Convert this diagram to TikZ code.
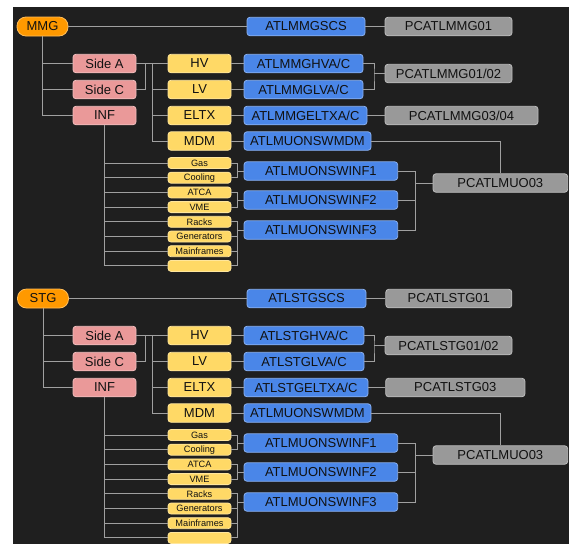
\documentclass[tikz,border=0pt]{standalone}
\usepackage{fontspec}
\setmainfont{Liberation Sans}
\usetikzlibrary{calc}
\definecolor{bgc}{HTML}{1F1F1F}
\definecolor{orng}{HTML}{FF9900}
\definecolor{pnk}{HTML}{EA9999}
\definecolor{yel}{HTML}{FFD966}
\definecolor{blu}{HTML}{4A86E8}
\definecolor{gry}{HTML}{999999}
\definecolor{lnc}{HTML}{A0A0A0}
\definecolor{txt}{HTML}{111111}
\tikzset{
 box/.style={rectangle, rounded corners=3pt, inner sep=0pt, minimum height=18.5pt, text=txt, font=\fontsize{13}{15}\selectfont, line width=0.8pt},
 orangebox/.style={box, fill=orng, draw=orng!65!white, rounded corners=9pt},
 pinkbox/.style={box, fill=pnk, draw=pnk!65!white, minimum width=63pt},
 yelbox/.style={box, fill=yel, draw=yel!65!white, minimum width=63pt},
 smallbox/.style={yelbox, minimum height=11pt, font=\fontsize{9.2}{10}\selectfont},
 bluebox/.style={box, fill=blu, draw=blu!65!white},
 graybox/.style={box, fill=gry, draw=gry!65!white},
 conn/.style={draw=lnc, line width=0.9pt},
}
\begin{document}
\begin{tikzpicture}[x=1pt,y=-1pt]
\useasboundingbox (0,0) rectangle (569,544);
\fill[white] (0,0) rectangle (569,544);
\fill[bgc] (13,7) rectangle (569,544);

% ================= MMG section =================
\node[orangebox, minimum width=51pt, minimum height=19pt] (mtop) at (42.5,26.5) {MMG};
\node[bluebox, minimum width=118pt] (mscs) at (306,26.5) {ATLMMGSCS};
\node[graybox, minimum width=127pt] (mpc01) at (448.5,26.5) {PCATLMMG01};

\node[pinkbox] (msa) at (104.5,63.5) {Side A};
\node[pinkbox] (msc) at (104.5,89.5) {Side C};
\node[pinkbox] (minf) at (104.5,115.5) {INF};

\node[yelbox] (mhv) at (199.5,63.5) {HV};
\node[yelbox] (mlv) at (199.5,89.5) {LV};
\node[yelbox] (meltx) at (199.5,115.5) {ELTX};
\node[yelbox] (mmdm) at (199.5,141) {MDM};

\node[bluebox, minimum width=119pt] (mbhv) at (303.5,63.5) {ATLMMGHVA/C};
\node[bluebox, minimum width=119pt] (mblv) at (303.5,89.5) {ATLMMGLVA/C};
\node[bluebox, minimum width=123pt] (mbeltx) at (305.5,115.5) {ATLMMGELTXA/C};
\node[bluebox, minimum width=127pt] (mbmdm) at (307.5,141) {ATLMUONSWMDM};

\node[graybox, minimum width=127pt] (mpc0102) at (448.5,73.5) {PCATLMMG01/02};
\node[graybox, minimum width=153pt] (mpc0304) at (461.5,115.5) {PCATLMMG03/04};

\node[smallbox] (mgas) at (199.5,163) {Gas};
\node[smallbox] (mcool) at (199.5,177.7) {Cooling};
\node[smallbox] (matca) at (199.5,192.4) {ATCA};
\node[smallbox] (mvme) at (199.5,207.1) {VME};
\node[smallbox] (mracks) at (199.5,221.8) {Racks};
\node[smallbox] (mgen) at (199.5,236.5) {Generators};
\node[smallbox] (mmain) at (199.5,251.2) {Mainframes};
\node[smallbox] (mempty) at (199.5,265.9) {};

\node[bluebox, minimum width=153.7pt] (mbinf1) at (320.85,171) {ATLMUONSWINF1};
\node[bluebox, minimum width=153.7pt] (mbinf2) at (320.85,200) {ATLMUONSWINF2};
\node[bluebox, minimum width=153.7pt] (mbinf3) at (320.85,230) {ATLMUONSWINF3};
\node[graybox, minimum width=134.7pt] (mpcmuo) at (500.35,183) {PCATLMUO03};

\coordinate (mj1) at (145,63.5);
\coordinate (mj2) at (152,63.5);
\coordinate (mj3) at (374,73.5);
\coordinate (mk1) at (237.7,171);
\coordinate (mk2) at (237.7,200);
\coordinate (mk3) at (237.7,230);
\coordinate (mk4) at (415.7,183);

\draw[conn] (mtop) -- (mscs);
\draw[conn] (mscs) -- (mpc01);
\draw[conn] (mtop.south) |- (msa.west);
\draw[conn] (mtop.south) |- (msc.west);
\draw[conn] (mtop.south) |- (minf.west);
\draw[conn] (msa) -- (mhv);
\draw[conn] (msc.east) -| (mj1);
\draw[conn] (mj2) |- (mlv.west);
\draw[conn] (mj2) |- (meltx.west);
\draw[conn] (mj2) |- (mmdm.west);
\draw[conn] (mhv) -- (mbhv);
\draw[conn] (mlv) -- (mblv);
\draw[conn] (meltx) -- (mbeltx);
\draw[conn] (mmdm) -- (mbmdm);
\draw[conn] (mbhv.east) -| (mj3) |- (mblv.east);
\draw[conn] (mj3) -- (mpc0102.west);
\draw[conn] (mbeltx) -- (mpc0304);
\draw[conn] (mbmdm.east) -| (mpcmuo.north);
\foreach \n in {mgas,mcool,matca,mvme,mracks,mgen,mmain,mempty}
  \draw[conn] (minf.south) |- (\n.west);
\draw[conn] (mgas.east) -| (mk1) |- (mcool.east);
\draw[conn] (mk1) -- (mbinf1.west);
\draw[conn] (matca.east) -| (mk2) |- (mvme.east);
\draw[conn] (mk2) -- (mbinf2.west);
\draw[conn] (mracks.east) -| (mk3) |- (mempty.east);
\draw[conn] (mgen.east) -- (mgen.east -| mk3);
\draw[conn] (mmain.east) -- (mmain.east -| mk3);
\draw[conn] (mk3) -- (mbinf3.west);
\draw[conn] (mbinf1.east) -| (mk4) |- (mbinf3.east);
\draw[conn] (mbinf2.east) -- (mbinf2.east -| mk4);
\draw[conn] (mk4) -- (mpcmuo.west);

% ================= STG section =================
\begin{scope}[shift={(0,272)}]
\node[orangebox, minimum width=51pt, minimum height=19pt] (stop) at (43,26.5) {STG};
\node[bluebox, minimum width=119pt] (sscs) at (306.5,26.5) {ATLSTGSCS};
\node[graybox, minimum width=126pt] (spc01) at (448.8,26.5) {PCATLSTG01};

\node[pinkbox] (ssa) at (104.5,63.5) {Side A};
\node[pinkbox] (ssc) at (104.5,89.5) {Side C};
\node[pinkbox] (sinf) at (104.5,115.5) {INF};

\node[yelbox] (shv) at (199.5,63.5) {HV};
\node[yelbox] (slv) at (199.5,89.5) {LV};
\node[yelbox] (seltx) at (199.5,115.5) {ELTX};
\node[yelbox] (smdm) at (199.5,141) {MDM};

\node[bluebox, minimum width=120pt] (sbhv) at (304,63.5) {ATLSTGHVA/C};
\node[bluebox, minimum width=120pt] (sblv) at (304,89.5) {ATLSTGLVA/C};
\node[bluebox, minimum width=124pt] (sbeltx) at (306,115.5) {ATLSTGELTXA/C};
\node[bluebox, minimum width=127pt] (sbmdm) at (307.5,141) {ATLMUONSWMDM};

\node[graybox, minimum width=127pt] (spc0102) at (448.5,73.5) {PCATLSTG01/02};
\node[graybox, minimum width=139.3pt] (spc03) at (455.3,115.5) {PCATLSTG03};

\node[smallbox] (sgas) at (199.5,163) {Gas};
\node[smallbox] (scool) at (199.5,177.7) {Cooling};
\node[smallbox] (satca) at (199.5,192.4) {ATCA};
\node[smallbox] (svme) at (199.5,207.1) {VME};
\node[smallbox] (sracks) at (199.5,221.8) {Racks};
\node[smallbox] (sgen) at (199.5,236.5) {Generators};
\node[smallbox] (smain) at (199.5,251.2) {Mainframes};
\node[smallbox] (sempty) at (199.5,265.9) {};

\node[bluebox, minimum width=153.7pt] (sbinf1) at (320.85,171) {ATLMUONSWINF1};
\node[bluebox, minimum width=153.7pt] (sbinf2) at (320.85,200) {ATLMUONSWINF2};
\node[bluebox, minimum width=153.7pt] (sbinf3) at (320.85,230) {ATLMUONSWINF3};
\node[graybox, minimum width=134.7pt] (spcmuo) at (500.35,183) {PCATLMUO03};

\coordinate (sj1) at (145,63.5);
\coordinate (sj2) at (152,63.5);
\coordinate (sj3) at (374,73.5);
\coordinate (sk1) at (237.7,171);
\coordinate (sk2) at (237.7,200);
\coordinate (sk3) at (237.7,230);
\coordinate (sk4) at (415.7,183);

\draw[conn] (stop) -- (sscs);
\draw[conn] (sscs) -- (spc01);
\draw[conn] (stop.south) |- (ssa.west);
\draw[conn] (stop.south) |- (ssc.west);
\draw[conn] (stop.south) |- (sinf.west);
\draw[conn] (ssa) -- (shv);
\draw[conn] (ssc.east) -| (sj1);
\draw[conn] (sj2) |- (slv.west);
\draw[conn] (sj2) |- (seltx.west);
\draw[conn] (sj2) |- (smdm.west);
\draw[conn] (shv) -- (sbhv);
\draw[conn] (slv) -- (sblv);
\draw[conn] (seltx) -- (sbeltx);
\draw[conn] (smdm) -- (sbmdm);
\draw[conn] (sbhv.east) -| (sj3) |- (sblv.east);
\draw[conn] (sj3) -- (spc0102.west);
\draw[conn] (sbeltx) -- (spc03);
\draw[conn] (sbmdm.east) -| (spcmuo.north);
\foreach \n in {sgas,scool,satca,svme,sracks,sgen,smain,sempty}
  \draw[conn] (sinf.south) |- (\n.west);
\draw[conn] (sgas.east) -| (sk1) |- (scool.east);
\draw[conn] (sk1) -- (sbinf1.west);
\draw[conn] (satca.east) -| (sk2) |- (svme.east);
\draw[conn] (sk2) -- (sbinf2.west);
\draw[conn] (sracks.east) -| (sk3) |- (sempty.east);
\draw[conn] (sgen.east) -- (sgen.east -| sk3);
\draw[conn] (smain.east) -- (smain.east -| sk3);
\draw[conn] (sk3) -- (sbinf3.west);
\draw[conn] (sbinf1.east) -| (sk4) |- (sbinf3.east);
\draw[conn] (sbinf2.east) -- (sbinf2.east -| sk4);
\draw[conn] (sk4) -- (spcmuo.west);
\end{scope}
\end{tikzpicture}
\end{document}
